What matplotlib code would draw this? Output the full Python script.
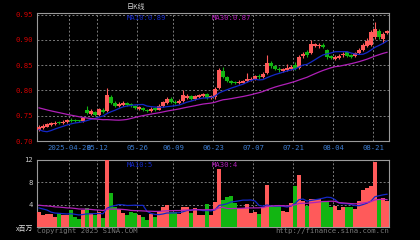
import matplotlib
matplotlib.use("Agg")
import matplotlib.pyplot as plt
import numpy as np
import pandas as pd

# 日K + 成交量 (2025-04-16 .. 2025-08-21)

# sessions before the window, only used to get the moving averages going
pre_close = [0.790, 0.795, 0.792, 0.788, 0.785, 0.790, 0.793, 0.789, 0.786, 0.784,
             0.788, 0.790, 0.787, 0.783, 0.780, 0.782, 0.785, 0.788, 0.784, 0.781,
             0.760, 0.745, 0.712, 0.705, 0.708, 0.712, 0.715, 0.718, 0.722]
pre_volume = [4.5, 3.8, 4.2, 5.1, 3.6, 3.9, 4.4, 3.7, 4.0, 4.6,
              3.5, 3.8, 4.1, 4.3, 3.9, 4.0, 4.8, 5.5, 3.7, 3.6,
              3.9, 4.2, 6.0, 3.5, 3.0, 2.8, 2.6, 2.5, 2.9]

opens = [0.722, 0.726, 0.728, 0.731, 0.733, 0.737, 0.735, 0.737, 0.742, 0.741,
         0.741, 0.739, 0.762, 0.754, 0.758, 0.752, 0.762, 0.760, 0.787, 0.776,
         0.770, 0.772, 0.775, 0.773, 0.770, 0.764, 0.766, 0.762, 0.759, 0.765,
         0.762, 0.769, 0.776, 0.783, 0.778, 0.776, 0.780, 0.785, 0.789, 0.784,
         0.787, 0.789, 0.792, 0.785, 0.786, 0.805, 0.838, 0.826, 0.818, 0.816,
         0.814, 0.815, 0.818, 0.820, 0.822, 0.829, 0.826, 0.835, 0.855, 0.849,
         0.843, 0.838, 0.840, 0.843, 0.850, 0.845, 0.868, 0.876, 0.873, 0.888,
         0.887, 0.890, 0.880, 0.868, 0.862, 0.864, 0.869, 0.875, 0.869, 0.868,
         0.873, 0.880, 0.888, 0.890, 0.905, 0.918, 0.902, 0.914]
closes = [0.728, 0.730, 0.733, 0.735, 0.736, 0.735, 0.738, 0.741, 0.740, 0.740,
          0.739, 0.745, 0.755, 0.760, 0.752, 0.763, 0.758, 0.790, 0.776, 0.770,
          0.774, 0.776, 0.772, 0.770, 0.765, 0.767, 0.762, 0.759, 0.764, 0.762,
          0.770, 0.777, 0.783, 0.778, 0.775, 0.780, 0.790, 0.789, 0.784, 0.788,
          0.790, 0.792, 0.785, 0.788, 0.802, 0.840, 0.826, 0.818, 0.815, 0.814,
          0.817, 0.818, 0.822, 0.823, 0.828, 0.826, 0.833, 0.855, 0.848, 0.843,
          0.840, 0.842, 0.845, 0.847, 0.843, 0.866, 0.872, 0.869, 0.892, 0.891,
          0.890, 0.886, 0.866, 0.865, 0.867, 0.868, 0.872, 0.868, 0.866, 0.873,
          0.880, 0.890, 0.898, 0.915, 0.922, 0.905, 0.912, 0.917]
highs = [0.731, 0.733, 0.735, 0.737, 0.739, 0.739, 0.741, 0.743, 0.745, 0.744,
         0.742, 0.748, 0.770, 0.763, 0.760, 0.766, 0.765, 0.805, 0.790, 0.779,
         0.777, 0.779, 0.777, 0.775, 0.772, 0.769, 0.768, 0.764, 0.767, 0.768,
         0.773, 0.780, 0.787, 0.786, 0.781, 0.783, 0.800, 0.792, 0.791, 0.791,
         0.792, 0.795, 0.794, 0.790, 0.806, 0.845, 0.846, 0.829, 0.821, 0.819,
         0.820, 0.821, 0.835, 0.826, 0.831, 0.832, 0.836, 0.870, 0.858, 0.851,
         0.846, 0.845, 0.852, 0.850, 0.856, 0.870, 0.876, 0.879, 0.900, 0.894,
         0.893, 0.893, 0.882, 0.870, 0.869, 0.871, 0.876, 0.877, 0.871, 0.876,
         0.883, 0.894, 0.903, 0.920, 0.935, 0.921, 0.916, 0.920]
lows = [0.720, 0.724, 0.727, 0.729, 0.731, 0.733, 0.734, 0.736, 0.738, 0.738,
        0.737, 0.738, 0.753, 0.752, 0.749, 0.750, 0.755, 0.757, 0.773, 0.767,
        0.768, 0.770, 0.770, 0.768, 0.763, 0.762, 0.759, 0.757, 0.757, 0.760,
        0.761, 0.767, 0.774, 0.776, 0.773, 0.774, 0.778, 0.783, 0.782, 0.782,
        0.785, 0.787, 0.783, 0.783, 0.784, 0.803, 0.824, 0.816, 0.812, 0.812,
        0.812, 0.814, 0.816, 0.818, 0.820, 0.823, 0.824, 0.833, 0.845, 0.840,
        0.837, 0.836, 0.838, 0.841, 0.840, 0.843, 0.864, 0.866, 0.871, 0.886,
        0.884, 0.883, 0.863, 0.862, 0.860, 0.862, 0.867, 0.866, 0.864, 0.866,
        0.871, 0.878, 0.886, 0.888, 0.902, 0.902, 0.893, 0.912]
volume = [2.7, 2.1, 2.3, 2.3, 1.8, 2.5, 2.1, 2.1, 3.0, 1.8,
          1.5, 3.0, 3.4, 2.5, 2.1, 2.7, 1.6, 12.0, 6.1, 3.6,
          3.2, 2.5, 2.2, 2.7, 2.5, 2.2, 1.8, 1.3, 2.3, 1.8,
          2.9, 3.6, 4.0, 2.7, 2.7, 2.4, 3.6, 3.6, 2.5, 3.4,
          2.2, 2.2, 4.1, 2.2, 4.5, 10.4, 4.8, 5.4, 5.6, 4.3,
          3.4, 3.4, 4.1, 2.5, 2.7, 2.4, 3.6, 7.5, 3.8, 3.8,
          3.8, 2.9, 2.7, 4.3, 7.3, 9.3, 4.7, 3.8, 5.0, 5.0,
          5.0, 4.5, 4.5, 3.6, 3.8, 3.1, 3.6, 3.6, 3.6, 3.2,
          4.6, 6.6, 7.0, 7.3, 11.7, 4.8, 5.2, 4.7]

tick_pos = [8, 15, 25, 34, 44, 54, 64, 74, 84]
tick_labels = ["2025-04-28", "05-12", "05-26", "06-09", "06-23",
               "07-07", "07-21", "08-04", "08-21"]
price_ticks = [0.70, 0.75, 0.80, 0.85, 0.90, 0.95]
vol_ticks = [4, 8, 12]

RED = "#ff5a5a"
GREEN = "#12b512"
BLUE = "#1428c8"
MAGENTA = "#b020b8"
GRID = "#7a7a7a"
mono = "DejaVu Sans Mono"

n = len(closes)
x = np.arange(n)
up = np.array(closes) >= np.array(opens)
colors = np.where(up, RED, GREEN)

# moving averages, with the earlier sessions in front
c_all = pd.Series(pre_close + closes)
v_all = pd.Series(pre_volume + volume)
ma10 = c_all.rolling(10).mean().values[-n:]
ma30 = c_all.rolling(30).mean().values[-n:]
vma10 = v_all.rolling(10).mean().values[-n:]
vma30 = v_all.rolling(30).mean().values[-n:]

fig = plt.figure(figsize=(4.2, 2.4), dpi=100, facecolor="black")
W, H = 420, 240
ax = fig.add_axes([37 / W, 1 - 141 / H, 352 / W, 128 / H], facecolor="black")
axv = fig.add_axes([37 / W, 1 - 227 / H, 352 / W, 67 / H], facecolor="black")

for a in (ax, axv):
    a.set_xlim(-0.5, n - 0.5)
    for s in a.spines.values():
        s.set_color("#9a9a9a")
        s.set_linewidth(0.8)
    a.set_xticks([p - 0.5 for p in tick_pos])
    a.tick_params(length=0)
    a.grid(True, color=GRID, linestyle=(0, (2, 2)), linewidth=0.7)
    a.set_axisbelow(True)

# candles
ax.vlines(x, lows, highs, colors=colors, linewidth=0.8, zorder=3)
body_lo = np.minimum(opens, closes)
body_h = np.maximum(np.abs(np.array(closes) - np.array(opens)), 0.0018)
ax.bar(x, body_h, bottom=body_lo, width=0.8, color=colors, linewidth=0, zorder=4)
ax.plot(x, ma10, color=BLUE, linewidth=0.9, zorder=5)
ax.plot(x, ma30, color=MAGENTA, linewidth=0.9, zorder=5)
ax.set_ylim(0.70, 0.953)
ax.set_yticks(price_ticks)
ax.set_yticklabels(["%.2f" % p for p in price_ticks], color="#d00000",
                   family=mono, fontsize=5.2)
ax.set_xticklabels(tick_labels, color="#3c7cd0", family=mono, fontsize=5.2)
ax.tick_params(axis="x", pad=3)
ax.tick_params(axis="y", pad=3)

ax.text(90 / 352, 0.985, "MA10:0.89", transform=ax.transAxes, color=BLUE,
        family=mono, fontsize=5.2, va="top")
ax.text(175 / 352, 0.985, "MA30:0.87", transform=ax.transAxes, color=MAGENTA,
        family=mono, fontsize=5.2, va="top")
fig.text(127 / W, 1 - 7 / H, "日K线", color="#d0d0d0", fontsize=5,
         family=["Noto Sans CJK SC", "DejaVu Sans"], va="center")

# volume
axv.bar(x, volume, width=0.8, color=colors, linewidth=0, zorder=3)
axv.plot(x, vma10, color=BLUE, linewidth=0.9, zorder=5)
axv.plot(x, vma30, color=MAGENTA, linewidth=0.9, zorder=5)
axv.set_ylim(0, 12)
axv.set_yticks(vol_ticks)
axv.set_yticklabels([str(v) for v in vol_ticks], color="#c8c8c8",
                    family=mono, fontsize=5.2)
axv.set_xticklabels([])
axv.tick_params(axis="y", pad=3)
axv.text(90 / 352, 0.97, "MA10:5", transform=axv.transAxes, color=BLUE,
         family=mono, fontsize=5.2, va="top")
axv.text(175 / 352, 0.97, "MA30:4", transform=axv.transAxes, color=MAGENTA,
         family=mono, fontsize=5.2, va="top")

fig.text(33 / W, 1 - 229 / H, "x百万", color="#e0e0e0", fontsize=5,
         family=["Noto Sans CJK SC", "DejaVu Sans"], ha="right", va="center")
fig.text(37 / W, 1 - 231 / H, "Copyright 2025 SINA.COM", color="#7a7a7a",
         family=mono, fontsize=5.2, va="center")
fig.text(389 / W, 1 - 231 / H, "http://finance.sina.com.cn", color="#7a7a7a",
         family=mono, fontsize=5.2, va="center", ha="right")

fig.savefig("out.png", dpi=100, facecolor="black")
